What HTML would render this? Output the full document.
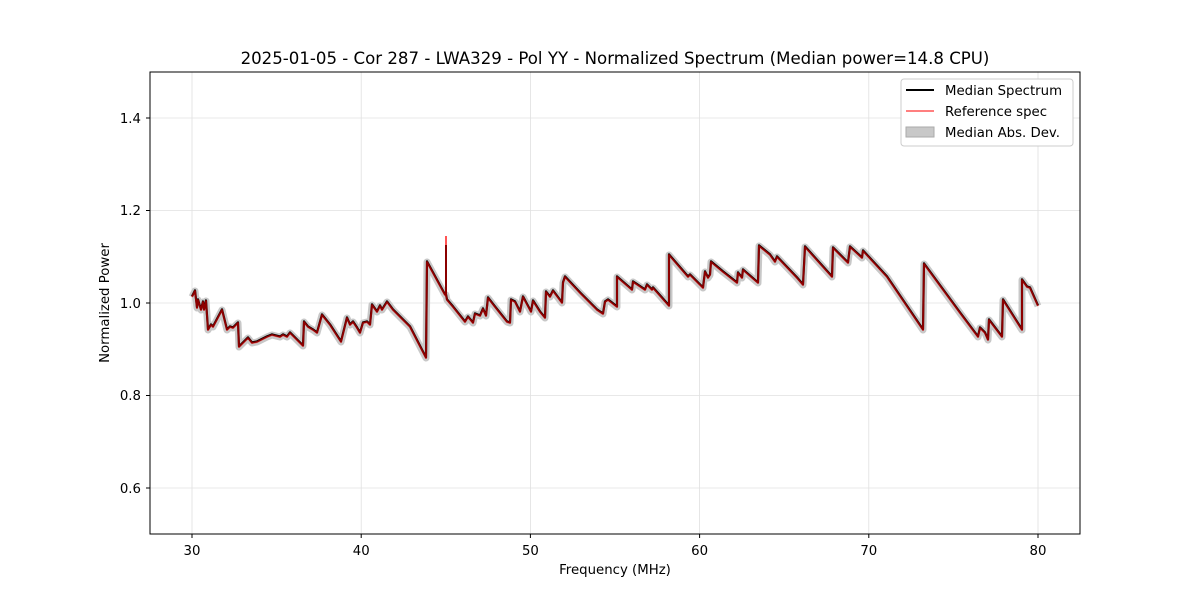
<!DOCTYPE html>
<html><head><style>body{margin:0;background:#fff}</style></head><body>
<svg width="1200" height="600" xmlns="http://www.w3.org/2000/svg" font-family="DejaVu Sans, Liberation Sans, sans-serif">
<rect width="1200" height="600" fill="#fff"/>
<g stroke="#e0e0e0" stroke-width="0.8">
<line x1="192" y1="72" x2="192" y2="534"/><line x1="361.2" y1="72" x2="361.2" y2="534"/><line x1="530.4" y1="72" x2="530.4" y2="534"/><line x1="699.6" y1="72" x2="699.6" y2="534"/><line x1="868.8" y1="72" x2="868.8" y2="534"/><line x1="1038" y1="72" x2="1038" y2="534"/>
<line x1="150" y1="488" x2="1080" y2="488"/><line x1="150" y1="395.5" x2="1080" y2="395.5"/><line x1="150" y1="303" x2="1080" y2="303"/><line x1="150" y1="210.5" x2="1080" y2="210.5"/><line x1="150" y1="118" x2="1080" y2="118"/>
</g>
<defs><polyline id="s" fill="none" stroke-linejoin="round" points="192,297 195,291 197,308 198,300 201,310 203,302 204,310 206,301 208,330 211,325 213,327 222,310 227,330 230,327 233,328 238,323 239,347 243,343 248,338 252,343 257,342 267,337 272,335 280,337 283,335 287,337 290,333 297,340 303,346 304,322 308,327 313,330 317,333 322,315 330,325 341,342 347,318 350,325 353,322 357,328 360,333 363,323 367,322 370,325 372,305 377,312 380,306 382,310 387,302 393,310 400,317 410,327 426,358 427,262 445,295 446,295 447,300 453,307 465,322 468,317 473,323 475,314 480,316 483,309 486,316 488,298 495,307 507,322 510,323 511,300 515,302 520,312 523,297 531,312 533,301 540,312 545,318 546,292 550,297 553,291 562,303 563,283 565,277 580,293 597,310 603,314 605,302 608,300 617,307 617,277 632,290 633,282 645,290 647,285 652,290 653,288 669,306 669,255 688,277 690,275 703,288 705,272 708,278 710,275 711,262 723,272 737,283 738,273 742,278 743,270 758,283 759,246 770,255 775,262 777,257 797,278 803,285 805,247 832,277 833,248 848,263 850,247 862,258 863,251 887,277 923,330 924,264 960,313 978,337 980,328 985,333 988,340 989,320 1002,337 1003,300 1022,330 1022,280 1027,287 1030,288 1038,306"/></defs>
<use href="#s" stroke="#c8c8c8" stroke-width="7"/>
<use href="#s" stroke="#000" stroke-width="2.2" transform="translate(0,-0.6)"/>
<use href="#s" stroke="#ff0000" stroke-opacity="0.55" stroke-width="2"/>
<line x1="446" y1="295" x2="446" y2="236" stroke="#f55" stroke-width="2"/>
<line x1="446" y1="295" x2="446" y2="245" stroke="#8b0000" stroke-width="2"/>
<rect x="150" y="72" width="930" height="462" fill="none" stroke="#000" stroke-width="1"/>
<g stroke="#000"><line x1="192" y1="534" x2="192" y2="538"/><line x1="361.2" y1="534" x2="361.2" y2="538"/><line x1="530.4" y1="534" x2="530.4" y2="538"/><line x1="699.6" y1="534" x2="699.6" y2="538"/><line x1="868.8" y1="534" x2="868.8" y2="538"/><line x1="1038" y1="534" x2="1038" y2="538"/>
<line x1="146" y1="488" x2="150" y2="488"/><line x1="146" y1="395.5" x2="150" y2="395.5"/><line x1="146" y1="303" x2="150" y2="303"/><line x1="146" y1="210.5" x2="150" y2="210.5"/><line x1="146" y1="118" x2="150" y2="118"/></g>
<g font-size="13.3" text-anchor="middle"><text x="192" y="555">30</text><text x="361.2" y="555">40</text><text x="530.4" y="555">50</text><text x="699.6" y="555">60</text><text x="868.8" y="555">70</text><text x="1038" y="555">80</text></g>
<g font-size="13.3" text-anchor="end"><text x="141" y="493">0.6</text><text x="141" y="400">0.8</text><text x="141" y="308">1.0</text><text x="141" y="215">1.2</text><text x="141" y="123">1.4</text></g>
<text x="615" y="574" font-size="13.3" text-anchor="middle">Frequency (MHz)</text>
<text transform="translate(109,303) rotate(-90)" font-size="13.3" text-anchor="middle">Normalized Power</text>
<text x="615" y="64" font-size="16.6" text-anchor="middle">2025-01-05 - Cor 287 - LWA329 - Pol YY - Normalized Spectrum (Median power=14.8 CPU)</text>
<rect x="901" y="79" width="172" height="67" rx="3" fill="#fff" stroke="#ccc"/>
<line x1="906" y1="90" x2="934" y2="90" stroke="#000" stroke-width="2"/>
<line x1="906" y1="111" x2="934" y2="111" stroke="#f55" stroke-width="1.5"/>
<rect x="906" y="127" width="28" height="10" fill="#c8c8c8" stroke="#aaa"/>
<g font-size="13.3"><text x="945" y="95">Median Spectrum</text><text x="945" y="116">Reference spec</text><text x="945" y="137">Median Abs. Dev.</text></g>
</svg>
</body></html>
